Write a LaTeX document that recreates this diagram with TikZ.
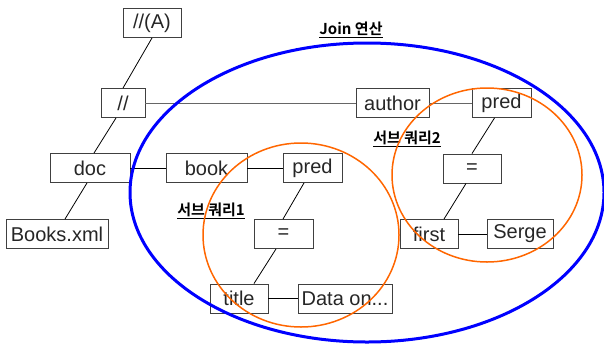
\documentclass[tikz,border=0pt]{standalone}
\usepackage{fontspec}
\setmainfont{Liberation Sans}
\newfontfamily\krb{Noto Sans CJK KR Bold}
\definecolor{orng}{RGB}{255,102,0}
\begin{document}
\begin{tikzpicture}[x=1pt,y=-1pt,
  box/.style={draw=black!75, line width=0.9pt, minimum height=29pt, inner sep=0pt,
    font=\fontsize{20}{20}\selectfont, text=black!85},
  conn/.style={draw=black, line width=0.8pt},
  hconn/.style={draw=black!60, line width=1pt},
  lbl/.style={inner sep=0pt, font=\krb\fontsize{15}{15}\selectfont, text=black},
  bigell/.style={draw=blue, line width=3pt},
  subell/.style={draw=orng, line width=1.5pt}]
\useasboundingbox (0,0) rectangle (604,343);
\node[box, minimum width=58pt] (A) at (152,23) {//(A)};
\node[box, minimum width=44pt] (dsl) at (123,103) {//};
\node[box, minimum width=80pt] (doc) at (90,168) {doc};
\node[box, minimum width=102pt] (books) at (57,234) {Books.xml};
\node[box, minimum width=81pt] (book) at (206.5,168) {book};
\node[box, minimum width=59pt] (pred1) at (312.5,168) {pred};
\node[box, minimum width=59pt] (eq1) at (283.5,234) {=};
\node[box, minimum width=58pt] (title) at (239,298.5) {title};
\node[box, minimum width=94pt] (data) at (345,298.5) {Data on...};
\node[box, minimum width=73pt] (author) at (392.5,103) {author};
\node[box, minimum width=59pt] (pred2) at (501.5,103) {pred};
\node[box, minimum width=58pt] (eq2) at (472,168.5) {=};
\node[box, minimum width=58pt] (first) at (429,234) {first};
\node[box, minimum width=66pt] (serge) at (520,234) {Serge};

\draw[conn] (A.south) -- (dsl.north);
\draw[conn] ([xshift=-7pt]dsl.south) -- ([xshift=4pt]doc.north);
\draw[conn] ([xshift=-3pt]doc.south) -- ([xshift=8pt]books.north);
\draw[conn] ([xshift=-8.5pt]pred1.south) -- ([xshift=-0.5pt]eq1.north);
\draw[conn] ([xshift=-7.5pt]eq1.south) -- ([xshift=15pt]title.north);
\draw[conn] ([xshift=-7pt]pred2.south) -- (eq2.north);
\draw[conn] ([xshift=-6pt]eq2.south) -- ([xshift=15pt]first.north);
\draw[hconn] (dsl.east) -- (author.west);
\draw[hconn] (author.east) -- (pred2.west);
\draw[conn] (doc.east) -- (book.west);
\draw[conn] (book.east) -- (pred1.west);
\draw[conn] (first.east) -- (serge.west);
\draw[conn] (title.east) -- (data.west);

\node[lbl] (join) at (351,30) {\underline{Join 연산}};
\node[lbl] (sub2) at (407,139) {\underline{서브 쿼리2}};
\node[lbl] (sub1) at (211,211) {\underline{서브 쿼리1}};

\draw[subell] (301,235) ellipse [x radius=98pt, y radius=92pt];
\draw[subell] (487,175) ellipse [x radius=95pt, y radius=87pt];
\draw[bigell] (367,192.5) ellipse [x radius=237pt, y radius=149.5pt];
\end{tikzpicture}
\end{document}
